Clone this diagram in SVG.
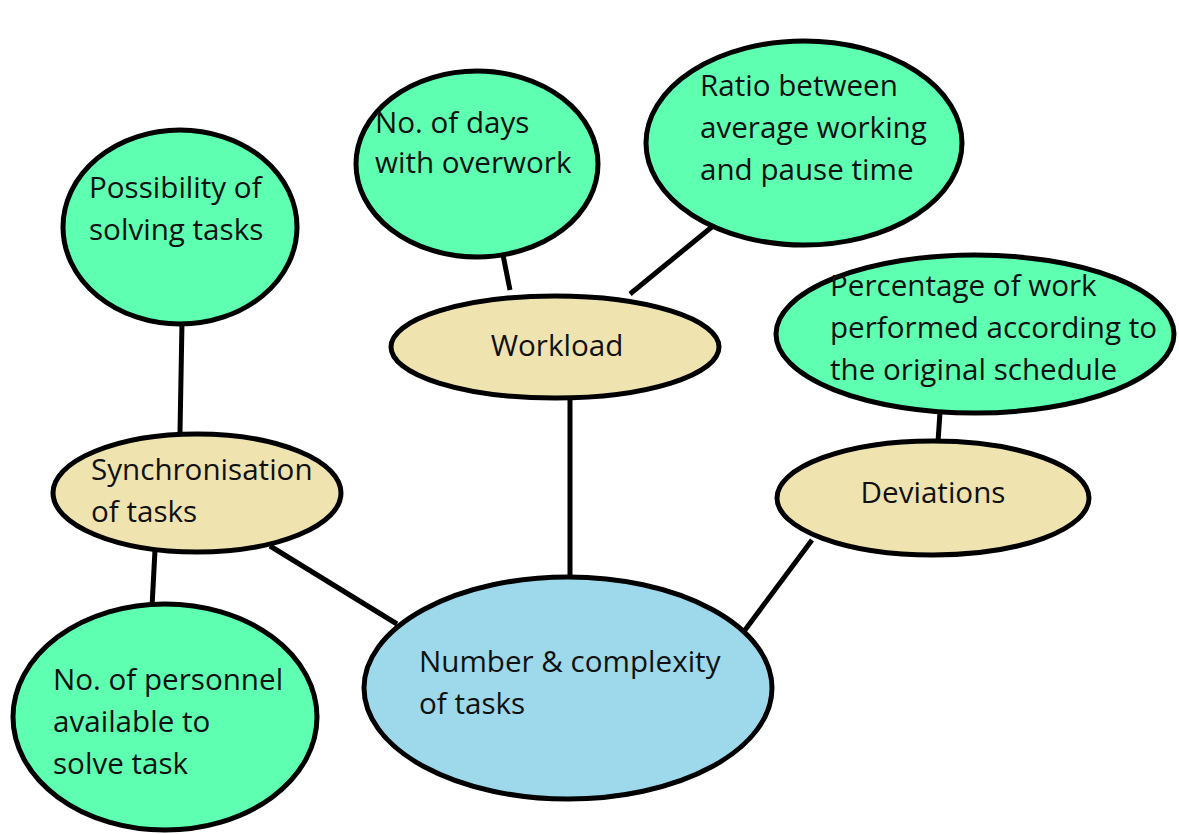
<svg xmlns="http://www.w3.org/2000/svg" width="1179" height="834" viewBox="0 0 1179 834">
<style>
.n{stroke:#000;stroke-width:5}
.g{fill:#5effb0}
.y{fill:#efe3b0}
.b{fill:#9dd9ea}
text{font-family:"Open Sans","Noto Sans",sans-serif;font-size:29.6px;fill:#111}
.c line{stroke:#000;stroke-width:5}
</style>
<rect width="1179" height="834" fill="#fff"/>
<g class="c" id="connectors">
<line x1="182" y1="322" x2="180" y2="432"/>
<line x1="155" y1="550" x2="152" y2="607"/>
<line x1="270" y1="546" x2="397" y2="624"/>
<line x1="570" y1="398" x2="570" y2="578"/>
<line x1="500" y1="240" x2="510" y2="290"/>
<line x1="713" y1="226" x2="630" y2="294"/>
<line x1="940" y1="412" x2="938" y2="442"/>
<line x1="812" y1="540" x2="745" y2="630"/>
</g>
<g id="possibility"><ellipse class="n g" cx="180" cy="227" rx="117" ry="97"/><text x="89" y="198">Possibility of</text><text x="89" y="240">solving tasks</text></g>
<g id="days"><ellipse class="n g" cx="477" cy="164" rx="121" ry="93"/><text x="375" y="133">No. of days</text><text x="375" y="173">with overwork</text></g>
<g id="ratio"><ellipse class="n g" cx="804" cy="143" rx="158" ry="102"/><text x="700" y="96">Ratio between</text><text x="700" y="138">average working</text><text x="700" y="180">and pause time</text></g>
<g id="workload"><ellipse class="n y" cx="555" cy="347" rx="164" ry="51"/><text x="557" y="356" text-anchor="middle">Workload</text></g>
<g id="percentage"><ellipse class="n g" cx="975" cy="334" rx="199" ry="79"/><text x="830" y="296">Percentage of work</text><text x="830" y="338">performed according to</text><text x="830" y="380">the original schedule</text></g>
<g id="sync"><ellipse class="n y" cx="197" cy="493" rx="144" ry="59"/><text x="91" y="480">Synchronisation</text><text x="91" y="522">of tasks</text></g>
<g id="deviations"><ellipse class="n y" cx="933" cy="498" rx="156" ry="57"/><text x="933" y="503" text-anchor="middle">Deviations</text></g>
<g id="personnel"><ellipse class="n g" cx="165" cy="717" rx="152" ry="113"/><text x="53" y="690">No. of personnel</text><text x="53" y="732">available to</text><text x="53" y="774">solve task</text></g>
<g id="number"><ellipse class="n b" cx="568" cy="688" rx="204" ry="111"/><text x="419" y="672">Number &amp; complexity</text><text x="419" y="714">of tasks</text></g>
</svg>
